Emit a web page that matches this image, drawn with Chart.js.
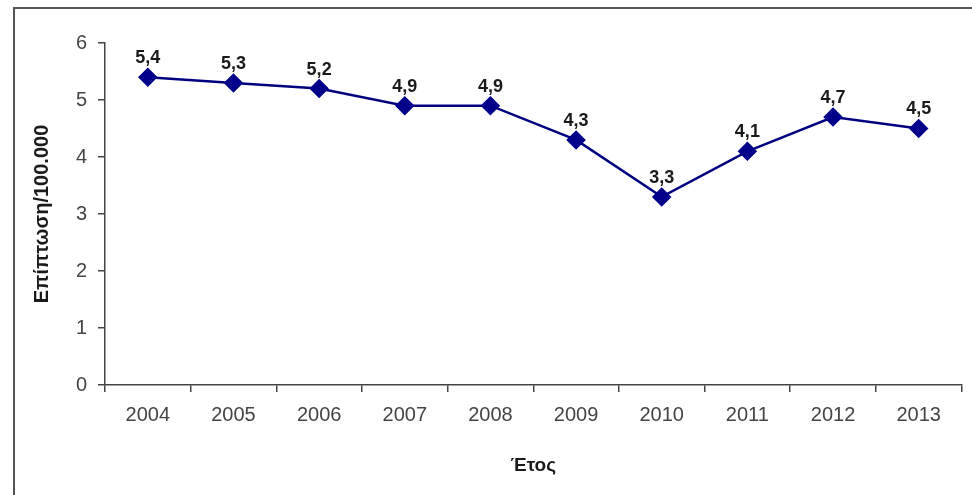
<!DOCTYPE html>
<html>
<head>
<meta charset="utf-8">
<script src="https://cdn.jsdelivr.net/npm/chart.js@4/dist/chart.umd.min.js"></script>
<style>
html,body{margin:0;padding:0;background:#fff;}
#wrap{width:972px;height:495px;position:relative;}
</style>
</head>
<body>
<div id="wrap"><canvas id="c" width="972" height="495"></canvas></div>
<script>
const years = ['2004','2005','2006','2007','2008','2009','2010','2011','2012','2013'];
const incidence = [5.4, 5.3, 5.2, 4.9, 4.9, 4.3, 3.3, 4.1, 4.7, 4.5];
const yTitle = 'Επίπτωση/100.000';
const xTitle = 'Έτος';

const frame = {
  id: 'frame',
  beforeDraw(chart) {
    const ctx = chart.ctx;
    ctx.save();
    ctx.fillStyle = '#fff';
    ctx.fillRect(0, 0, chart.width, chart.height);
    ctx.strokeStyle = '#555';
    ctx.lineWidth = 2;
    ctx.beginPath();
    ctx.moveTo(14, chart.height + 2);
    ctx.lineTo(14, 8);
    ctx.lineTo(chart.width + 2, 8);
    ctx.stroke();
    ctx.restore();
  }
};

const valueLabels = {
  id: 'valueLabels',
  afterDatasetsDraw(chart) {
    const ctx = chart.ctx;
    const meta = chart.getDatasetMeta(0);
    ctx.save();
    ctx.font = 'bold 18px "Liberation Sans", Arial, sans-serif';
    ctx.fillStyle = '#1a1a1a';
    ctx.textAlign = 'center';
    ctx.textBaseline = 'bottom';
    meta.data.forEach((pt, i) => {
      const txt = incidence[i].toFixed(1).replace('.', ',');
      ctx.fillText(txt, pt.x, pt.y - 10);
    });
    ctx.restore();
  }
};

new Chart(document.getElementById('c'), {
  type: 'line',
  data: {
    labels: years,
    datasets: [{
      data: incidence,
      borderColor: '#000080',
      backgroundColor: '#000080',
      borderWidth: 2.5,
      pointStyle: 'rectRot',
      pointRadius: 8,
      pointHoverRadius: 8,
      pointBackgroundColor: '#00008B',
      pointBorderColor: '#00008B',
      tension: 0
    }]
  },
  options: {
    responsive: false,
    animation: false,
    devicePixelRatio: 1,
    layout: { padding: { left: 20, top: 43, right: 6, bottom: 0 } },
    plugins: { legend: { display: false }, tooltip: { enabled: false } },
    scales: {
      x: {
        type: 'category',
        offset: true,
        afterFit(s) { s.height = 110; },
        grid: { offset: true, drawOnChartArea: false, drawTicks: true, tickLength: 7, color: '#444', lineWidth: 1.5 },
        border: { color: '#444', width: 1.5 },
        ticks: { color: '#444', font: { family: '"Liberation Sans", Arial, sans-serif', size: 20 }, padding: 11, maxRotation: 0 },
        title: { display: true, text: xTitle, color: '#1a1a1a', font: { family: '"Liberation Sans", Arial, sans-serif', size: 19, weight: 'bold' }, padding: { top: 0, bottom: 18 } }
      },
      y: {
        min: 0, max: 6,
        afterFit(s) { s.width = 85; },
        grid: { drawOnChartArea: false, drawTicks: true, tickLength: 7, color: '#444', lineWidth: 1.5 },
        border: { color: '#444', width: 1.5 },
        ticks: { stepSize: 1, color: '#444', font: { family: '"Liberation Sans", Arial, sans-serif', size: 20 }, padding: 11 },
        title: { display: true, text: yTitle, color: '#1a1a1a', font: { family: '"Liberation Sans", Arial, sans-serif', size: 20, weight: 'bold' }, padding: { top: 10, bottom: 0 } }
      }
    }
  },
  plugins: [frame, valueLabels]
});
</script>
</body>
</html>
